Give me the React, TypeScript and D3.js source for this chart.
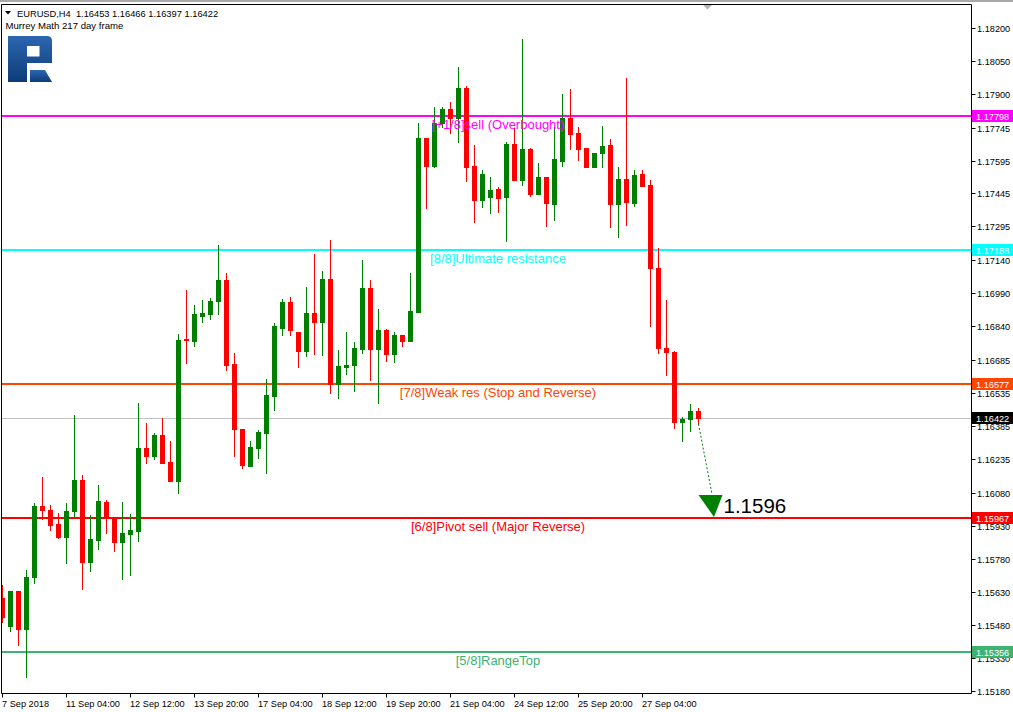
import React from "react";
import * as d3 from "d3";

// ---- Data (EURUSD H4) ----
const opens = [1.15602,1.15474,1.15634,1.15461,1.15698,1.16021,1.16003,1.15939,1.15880,1.15998,1.16140,1.15766,1.15866,1.16039,1.15967,1.15857,1.15894,1.15907,1.16285,1.16249,1.16345,1.16222,1.16135,1.16782,1.16773,1.16887,1.16896,1.16955,1.17051,1.16668,1.16372,1.16203,1.16285,1.16354,1.16522,1.16832,1.16951,1.16814,1.16727,1.16901,1.16860,1.17055,1.16577,1.16654,1.16664,1.16736,1.17014,1.16736,1.16823,1.16714,1.16800,1.16773,1.16905,1.17698,1.17570,1.17766,1.17830,1.17789,1.17926,1.17570,1.17415,1.17429,1.17465,1.17429,1.17670,1.17506,1.17648,1.17443,1.17520,1.17397,1.17593,1.17789,1.17721,1.17652,1.17566,1.17629,1.17666,1.17397,1.17511,1.17402,1.17534,1.17484,1.17106,1.16741,1.16723,1.16404,1.16418,1.16453];
const highs = [1.15661,1.15634,1.15634,1.15730,1.16035,1.16153,1.16026,1.15989,1.16035,1.16436,1.16162,1.15980,1.16117,1.16049,1.15967,1.16039,1.15985,1.16490,1.16399,1.16354,1.16422,1.16317,1.16805,1.17005,1.16937,1.16960,1.16969,1.17210,1.17083,1.16718,1.16372,1.16317,1.16367,1.16600,1.16855,1.16964,1.16973,1.16814,1.17019,1.17169,1.17092,1.17233,1.16732,1.16814,1.16768,1.17142,1.17051,1.16919,1.16828,1.16814,1.16800,1.17083,1.17766,1.17698,1.17839,1.17839,1.17862,1.18021,1.17935,1.17666,1.17552,1.17520,1.17475,1.17680,1.17743,1.18149,1.17652,1.17584,1.17520,1.17748,1.17898,1.17921,1.17748,1.17652,1.17629,1.17752,1.17693,1.17566,1.17971,1.17552,1.17552,1.17506,1.17197,1.16960,1.16727,1.16427,1.16486,1.16466];
const lows = [1.15493,1.15452,1.15388,1.15242,1.15670,1.15962,1.15912,1.15875,1.15762,1.15971,1.15643,1.15725,1.15825,1.15898,1.15816,1.15689,1.15707,1.15862,1.16217,1.16235,1.16217,1.16135,1.16080,1.16673,1.16750,1.16860,1.16873,1.16896,1.16641,1.16249,1.16194,1.16203,1.16240,1.16172,1.16459,1.16800,1.16800,1.16654,1.16705,1.16714,1.16709,1.16536,1.16513,1.16623,1.16545,1.16718,1.16595,1.16490,1.16682,1.16677,1.16750,1.16773,1.16905,1.17379,1.17566,1.17748,1.17721,1.17680,1.17502,1.17315,1.17383,1.17356,1.17361,1.17229,1.17506,1.17484,1.17434,1.17443,1.17297,1.17324,1.17570,1.17648,1.17598,1.17566,1.17566,1.17566,1.17292,1.17247,1.17301,1.17388,1.17479,1.16841,1.16718,1.16618,1.16377,1.16317,1.16363,1.16397];
const closes = [1.15515,1.15634,1.15461,1.15698,1.16021,1.16003,1.15935,1.15880,1.15998,1.16140,1.15766,1.15871,1.16044,1.15971,1.15857,1.15898,1.15912,1.16285,1.16249,1.16345,1.16217,1.16135,1.16777,1.16777,1.16896,1.16901,1.16955,1.17051,1.16664,1.16372,1.16208,1.16290,1.16358,1.16527,1.16841,1.16951,1.16823,1.16727,1.16901,1.16860,1.17055,1.16577,1.16659,1.16664,1.16741,1.17014,1.16736,1.16823,1.16714,1.16800,1.16773,1.16910,1.17698,1.17570,1.17766,1.17830,1.17789,1.17926,1.17566,1.17415,1.17534,1.17461,1.17424,1.17670,1.17506,1.17648,1.17443,1.17520,1.17402,1.17602,1.17789,1.17716,1.17648,1.17566,1.17629,1.17661,1.17397,1.17511,1.17406,1.17529,1.17479,1.17106,1.16741,1.16723,1.16404,1.16418,1.16454,1.16422];

const yTickValues = ["1.18200","1.18050","1.17900","1.17745","1.17595","1.17445","1.17295","1.17140","1.16990","1.16840","1.16685","1.16535","1.16385","1.16235","1.16080","1.15930","1.15780","1.15630","1.15480","1.15330","1.15180"];
const xTickIndex = [0, 8, 16, 24, 32, 40, 48, 56, 64, 72, 80];
const xTickLabels = ["7 Sep 2018","11 Sep 04:00","12 Sep 12:00","13 Sep 20:00","17 Sep 04:00","18 Sep 12:00","19 Sep 20:00","21 Sep 04:00","24 Sep 12:00","25 Sep 20:00","27 Sep 04:00"];

const levelValues = [1.17798, 1.17188, 1.16577, 1.15967, 1.15356];
const levelLabels = ["[+1/8]sell (Overbought)", "[8/8]Ultimate resistance", "[7/8]Weak res (Stop and Reverse)", "[6/8]Pivot sell (Major Reverse)", "[5/8]RangeTop"];
const levelColors = ["#FF00FF", "#00FFFF", "#FF4500", "#FF0000", "#3CB371"];

const lastPrice = 1.16422;
const targetPrice = 1.1596;
const targetLevel = 1.15967;
const headerText = "EURUSD,H4  1.16453 1.16466 1.16397 1.16422";
const subText = "Murrey Math 217 day frame";

const W = 1013, H = 712;
const PL = 1.5, PR = 971.5, PT = 4.5, PB = 693.5;
const FONT = "'Liberation Sans', Arial, sans-serif";

export default function App() {
  const n = opens.length;
  const x = d3.scaleLinear().domain([0, n - 1]).range([2.5, 2.5 + 8 * (n - 1)]);
  const y = d3.scaleLinear().domain([1.1518, 1.182]).range([690.6, 27.8]);
  const bw = 5;

  const lastX = x(n - 1);
  const tipX = lastX + 15.5;
  const tipY = Math.round(y(targetLevel)) - 1;

  return (
    <svg width={W} height={H} style={{ position: "absolute", left: 0, top: 0, background: "#fff" }} fontFamily={FONT}>
      <defs>
        <linearGradient id="logoG" x1="0" y1="0" x2="0" y2="1">
          <stop offset="0" stopColor="#2b67b0" />
          <stop offset="1" stopColor="#0e3b78" />
        </linearGradient>
        <clipPath id="plotClip">
          <rect x={PL} y={PT} width={PR - PL} height={PB - PT} />
        </clipPath>
      </defs>
      <rect x={0} y={0} width={W} height={H} fill="#fff" />
      <rect x={0} y={0} width={W} height={2} fill="#a9a9a9" />

      {/* header */}
      <path d="M5,11 L11,11 L8,14.5 Z" fill="#000" />
      <text x={17} y={16.5} fontSize={9.3} fill="#000" style={{ whiteSpace: "pre" }}>{headerText}</text>
      <text x={5.5} y={29} fontSize={9.6} fill="#000">{subText}</text>

      {/* logo */}
      <path d="M8,36 H47 Q52,36 52,41 V63 H27 V82 H8 Z M27,46 H39.5 V56.5 H27 Z" fill="url(#logoG)" fillRule="evenodd" />
      <path d="M30,70 H45 L52,82 H30 Z" fill="url(#logoG)" />

      <g clipPath="url(#plotClip)">
        {/* current price line */}
        <line x1={PL} x2={PR} y1={Math.round(y(lastPrice)) + 0.5} y2={Math.round(y(lastPrice)) + 0.5} stroke="#c0c0c0" strokeWidth={1} />
        {/* Murrey levels */}
        {levelValues.map((v, i) => (
          <line key={"l" + i} x1={PL} x2={PR} y1={Math.round(y(v))} y2={Math.round(y(v))} stroke={levelColors[i]} strokeWidth={2} />
        ))}
        {/* candles */}
        {opens.map((o, i) => {
          const c = closes[i];
          const up = c >= o;
          const col = up ? "#008000" : "#FF0000";
          const cx = x(i);
          const top = Math.round(y(Math.max(o, c)));
          const bot = Math.round(y(Math.min(o, c)));
          return (
            <g key={"c" + i}>
              <line x1={cx} x2={cx} y1={Math.round(y(highs[i]))} y2={Math.round(y(lows[i])) + 1} stroke={col} strokeWidth={1} />
              <rect x={cx - bw / 2} y={top} width={bw} height={Math.max(1, bot - top + 1)} fill={col} />
            </g>
          );
        })}
        {/* level labels */}
        {levelValues.map((v, i) => (
          <text key={"t" + i} x={498} y={Math.round(y(v)) + 13} fontSize={13} fill={levelColors[i]} textAnchor="middle">{levelLabels[i]}</text>
        ))}
        {/* target arrow */}
        <line x1={lastX} y1={Math.round(y(lows[n - 1]))} x2={tipX - 2} y2={tipY - 23} stroke="#008000" strokeWidth={1} strokeDasharray="2,2" />
        <path d={`M${lastX},${tipY - 22} L${lastX + 24},${tipY - 22} L${tipX},${tipY} Z`} fill="#008000" />
        <text x={lastX + 25} y={tipY - 4.5} fontSize={20.5} fill="#000">{targetPrice.toFixed(4)}</text>
      </g>

      {/* frame */}
      <path d={`M${PL},${PT} H${PR} V${PB} H${PL} Z`} fill="none" stroke="#000" strokeWidth={1} />
      <path d="M703,5 L712,5 L707.5,9.5 Z" fill="#b4b4b4" />

      {/* right axis */}
      {yTickValues.map((t, i) => {
        const ty = Math.round(y(+t)) + 0.5;
        return (
          <g key={"yt" + i}>
            <line x1={PR} x2={PR + 4} y1={ty} y2={ty} stroke="#000" />
            <text x={977} y={ty + 3.5} fontSize={9.2} fill="#000">{t}</text>
          </g>
        );
      })}
      {levelValues.concat([lastPrice]).map((v, i) => {
        const ly = Math.round(y(v));
        const bg = i < levelColors.length ? levelColors[i] : "#000";
        return (
          <g key={"pb" + i}>
            <rect x={972} y={ly - 6} width={41} height={12} fill={bg} />
            <text x={976} y={ly + 3.5} fontSize={9.2} fill="#fff">{v.toFixed(5)}</text>
          </g>
        );
      })}

      {/* bottom axis */}
      {xTickIndex.map((ti, i) => {
        const tx = x(ti);
        return (
          <g key={"xt" + i}>
            <line x1={tx} x2={tx} y1={PB} y2={PB + 4} stroke="#000" />
            <text x={tx - 0.5} y={707} fontSize={9.2} fill="#000">{xTickLabels[i]}</text>
          </g>
        );
      })}
    </svg>
  );
}
